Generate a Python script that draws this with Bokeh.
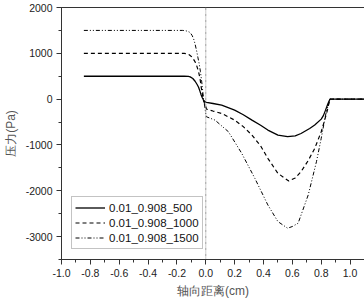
from bokeh.plotting import figure
from bokeh.models import Span, Legend, LegendItem, Range1d, FixedTicker
from bokeh.embed import file_html
from bokeh.resources import INLINE

# ---- data ----
series_names = ["0.01_0.908_500", "0.01_0.908_1000", "0.01_0.908_1500"]

x_500 = [-0.845, -0.15, -0.12, -0.108, -0.09, -0.074, -0.06, -0.05, -0.04, -0.032, -0.024,
         -0.016, -0.008, 0.0, 0.005, 0.05, 0.11, 0.2, 0.26, 0.32, 0.38, 0.43, 0.5, 0.567,
         0.62, 0.66, 0.72, 0.755, 0.8, 0.815, 0.83, 0.845, 0.86, 1.1]
y_500 = [500, 500, 495, 485, 450, 390, 320, 260, 170, 90, 30,
         -20, -50, -65, -72, -95, -130, -240, -340, -458, -570, -675, -785, -820,
         -800, -750, -640, -566, -436, -360, -240, -110, 0, 0]

x_1000 = [-0.845, -0.15, -0.13, -0.115, -0.097, -0.085, -0.074, -0.062, -0.05, -0.04, -0.032,
          -0.024, -0.016, -0.008, 0.0, 0.005, 0.05, 0.11, 0.2, 0.26, 0.32, 0.38, 0.43, 0.5,
          0.575, 0.62, 0.66, 0.71, 0.755, 0.8, 0.82, 0.84, 0.86, 1.1]
y_1000 = [1000, 1000, 990, 970, 922, 870, 813, 720, 595, 450, 268,
          120, -22, -100, -160, -218, -260, -312, -458, -600, -785, -1020, -1292, -1620,
          -1786, -1720, -1583, -1340, -1075, -712, -500, -276, 0, 0]

x_1500 = [-0.845, -0.16, -0.143, -0.125, -0.108, -0.095, -0.085, -0.074, -0.062, -0.054,
          -0.046, -0.037, -0.028, -0.016, -0.005, 0.0, 0.005, 0.064, 0.157, 0.249, 0.34,
          0.43, 0.5, 0.567, 0.6, 0.64, 0.71, 0.767, 0.8, 0.83, 0.855, 0.862, 1.1]
y_1500 = [1500, 1500, 1495, 1480, 1453, 1390, 1322, 1200, 1030, 900,
          777, 600, 377, 15, -203, -320, -385, -458, -712, -1183, -1728,
          -2309, -2673, -2817, -2780, -2708, -2091, -1366, -856, -349, -58, 0, 0]

x_ticks = [-1.0, -0.8, -0.6, -0.4, -0.2, 0.0, 0.2, 0.4, 0.6, 0.8, 1.0]
x_tick_labels = ["-1.0", "-0.8", "-0.6", "-0.4", "-0.2", "0.0", "0.2", "0.4", "0.6", "0.8", "1.0"]
y_ticks = [-3000, -2000, -1000, 0, 1000, 2000]
y_tick_labels = ["-3000", "-2000", "-1000", "0", "1000", "2000"]

x_label = "轴向距离(cm)"
y_label = "压力(Pa)"

# ---- figure ----
p = figure(frame_width=303, frame_height=252, output_backend="svg", toolbar_location=None,
           x_range=Range1d(-1.0, 1.1), y_range=Range1d(-3500, 2000),
           min_border_left=59, min_border_right=2, min_border_top=7, min_border_bottom=43)
p.background_fill_color = "white"
p.border_fill_color = "white"
p.xgrid.visible = False
p.ygrid.visible = False
p.outline_line_color = "#333333"
p.outline_line_width = 1

axis_color = "#333333"
for ax in (p.xaxis[0], p.yaxis[0]):
    ax.axis_line_color = axis_color
    ax.major_tick_line_color = axis_color
    ax.minor_tick_line_color = axis_color
    ax.major_tick_out = 5
    ax.major_tick_in = 0
    ax.minor_tick_out = 3
    ax.minor_tick_in = 0
    ax.major_label_text_font = "Liberation Sans"
    ax.major_label_text_font_size = "10.5px"
    ax.major_label_text_color = "#222222"
    ax.major_label_standoff = 4
    ax.axis_label_text_font = "Liberation Sans"
    ax.axis_label_text_font_size = "12px"
    ax.axis_label_text_font_style = "normal"
    ax.axis_label_text_color = "#555555"

p.xaxis[0].ticker = FixedTicker(ticks=x_ticks,
                                minor_ticks=[round(-1.0 + 0.1 * i, 2) for i in range(22)])
p.xaxis[0].major_label_overrides = {t: l for t, l in zip(x_ticks, x_tick_labels)}
p.yaxis[0].ticker = FixedTicker(ticks=y_ticks,
                                minor_ticks=[-3500 + 500 * i for i in range(12)])
p.yaxis[0].major_label_overrides = {t: l for t, l in zip(y_ticks, y_tick_labels)}
p.xaxis[0].axis_label = x_label
p.yaxis[0].axis_label = y_label
p.xaxis[0].axis_label_standoff = 4
p.yaxis[0].axis_label_standoff = 5

p.add_layout(Span(location=0, dimension="height", line_color="#999999",
                  line_width=1, line_dash="3 1 1 1"))

r1 = p.line(x_500, y_500, line_color="black", line_width=1.3)
r2 = p.line(x_1000, y_1000, line_color="black", line_width=1.2, line_dash="4 3")
r3 = p.line(x_1500, y_1500, line_color="black", line_width=1.0, line_dash="4 2 1 2 1 2")

legend = Legend(items=[LegendItem(label=series_names[0], renderers=[r1]),
                       LegendItem(label=series_names[1], renderers=[r2]),
                       LegendItem(label=series_names[2], renderers=[r3])],
                location=(10, 10), margin=0, padding=3, spacing=0,
                glyph_width=30, glyph_height=15, label_height=15, label_standoff=4,
                label_text_font="Liberation Sans", label_text_font_size="11.5px",
                label_text_color="#111111",
                border_line_color="#888888", border_line_width=1,
                background_fill_color="white", background_fill_alpha=1.0)
p.add_layout(legend)

open("out.html", "w").write(file_html(p, INLINE))
